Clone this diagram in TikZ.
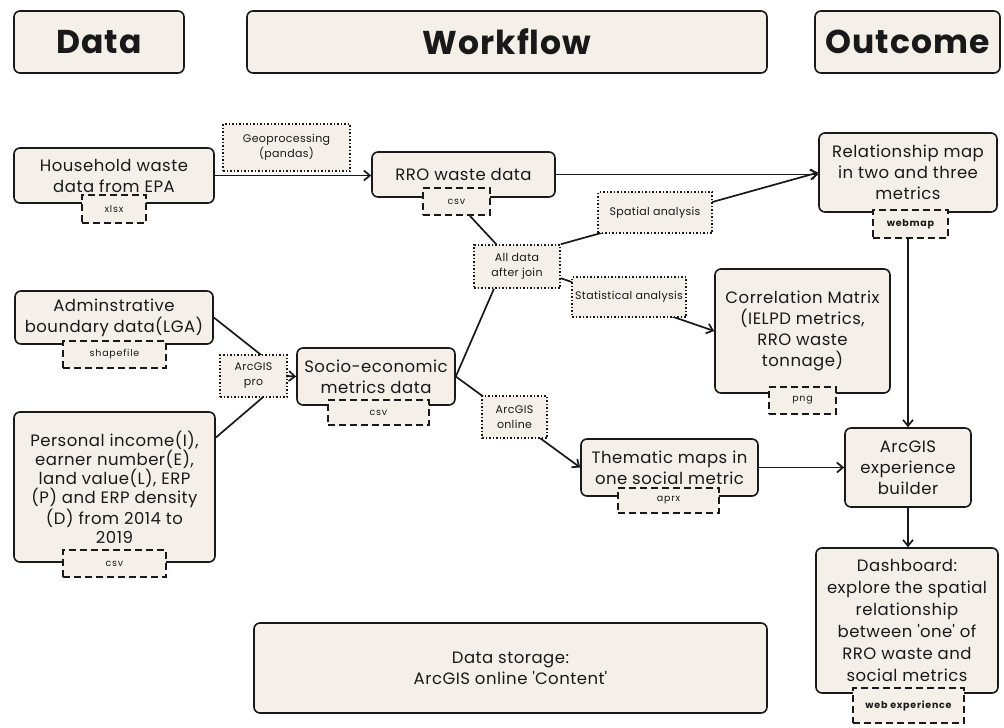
\documentclass[tikz,border=0pt]{standalone}
\usepackage{fontspec}
\setmainfont{Poppins}[LetterSpace=3]
\newfontfamily\tagfont{Poppins}[LetterSpace=8]
\usepackage{tikz}
\usetikzlibrary{arrows.meta,backgrounds}
\definecolor{paper}{RGB}{245,239,233}
\definecolor{ink}{RGB}{25,25,25}

\begin{document}
\begin{tikzpicture}[x=1pt, y=-1pt, line width=1.6pt,
  box/.style={draw=ink, rounded corners=6pt, fill=paper, align=center, text=ink, inner sep=2pt, font=\fontsize{16.5}{21}\selectfont},
  head/.style={box, minimum height=62, font=\fontsize{33}{40}\selectfont\bfseries},
  tagbox/.style={draw=ink, dash pattern=on 7pt off 4pt, fill=paper, text=ink, inner sep=1pt, font=\tagfont\fontsize{9.5}{11}\selectfont},
  procbox/.style={draw=ink, line width=1.5pt, dotted, fill=paper, align=center, text=ink, inner sep=1pt, font=\fontsize{11}{15}\selectfont},
  link/.style={draw=ink, line width=1.7pt},
  flow/.style={link, -{Straight Barb[length=6pt,width=10pt]}}]
\useasboundingbox (0,0) rectangle (1004,728);

\node[head, minimum width=170] (hdata) at (99,42) {Data};
\node[head, minimum width=520] (hflow) at (507,42) {Workflow};
\node[head, minimum width=185] (hout) at (907.5,42) {Outcome};

\node[box, minimum width=200, minimum height=55] (house) at (114,175.5) {Household waste\\data from EPA};
\node[tagbox, minimum width=64, minimum height=28] (xlsx) at (114,209) {xlsx};
\node[box, minimum width=183, minimum height=45] (rro) at (463.5,174.5) {RRO waste data};
\node[tagbox, minimum width=67, minimum height=27] (csvrro) at (456.5,201.5) {csv};
\node[box, minimum width=178, minimum height=79] (rel) at (908,172.5) {Relationship map\\in two and three\\metrics};
\node[tagbox, minimum width=75, minimum height=28, font=\tagfont\fontsize{9.5}{11}\selectfont\bfseries] (webmap) at (910.5,224) {webmap};

\node[box, minimum width=198, minimum height=53] (admin) at (114,317.5) {Adminstrative\\boundary data(LGA)};
\node[tagbox, minimum width=103, minimum height=27] (shp) at (114.5,354.5) {shapefile};
\node[box, minimum width=158, minimum height=57] (socio) at (376,376.5) {Socio-economic\\metrics data};
\node[tagbox, minimum width=101, minimum height=25] (csvsocio) at (378.5,412.5) {csv};
\node[box, minimum width=201, minimum height=150, font=\fontsize{16.5}{19}\selectfont] (pers) at (114.5,487) {Personal income(I),\\earner number(E),\\land value(L), ERP\\(P) and ERP density\\(D) from 2014 to\\2019};
\node[tagbox, minimum width=103, minimum height=27] (csvpers) at (114.5,563.5) {csv};

\node[box, minimum width=175, minimum height=124] (corr) at (802.5,331) {Correlation Matrix\\(IELPD metrics,\\RRO waste\\tonnage)};
\node[tagbox, minimum width=67, minimum height=27] (png) at (802.5,400.5) {png};
\node[box, minimum width=177, minimum height=57] (them) at (669.5,467.5) {Thematic maps in\\one social metric};
\node[tagbox, minimum width=101, minimum height=25] (aprx) at (668.5,500.5) {aprx};
\node[box, minimum width=126, minimum height=79] (build) at (908,467.5) {ArcGIS\\experience\\builder};
\node[box, minimum width=182, minimum height=145, font=\fontsize{16.5}{22}\selectfont] (dash) at (907,620.5) {Dashboard:\\explore the spatial\\relationship\\between \textquotesingle one\textquotesingle{} of\\RRO waste and\\social metrics};
\node[tagbox, minimum width=111, minimum height=35, font=\tagfont\fontsize{9.5}{11}\selectfont\bfseries] (webexp) at (908.5,705.5) {web experience};

\node[box, minimum width=513, minimum height=90] (store) at (510.5,668) {Data storage:\\ArcGIS online \textquotesingle Content\textquotesingle};

\node[procbox, minimum width=127, minimum height=47] (geo) at (286.5,147.5) {Geoprocessing\\(pandas)};
\node[procbox, minimum width=114, minimum height=41] (spatial) at (655,212.5) {Spatial analysis};
\node[procbox, minimum width=86, minimum height=43] (alldata) at (517,266.5) {All data\\after join};
\node[procbox, minimum width=114, minimum height=40] (stat) at (629,297) {Statistical analysis};
\node[procbox, minimum width=67, minimum height=42] (pro) at (253.5,376) {ArcGIS\\pro};
\node[procbox, minimum width=65, minimum height=42] (online) at (514.5,417) {ArcGIS\\online};

\begin{scope}[on background layer]
\draw[flow] (house.east) -- (house.east -| rro.west);
\draw[flow] (rro.east) -- (rro.east -| rel.west);
\draw[link] (csvrro) -- (alldata);
\draw[flow] (alldata.north east) -- (rel.west);
\draw[flow] (alldata.-15) -- (corr.west);
\draw[link] (socio.east) -- (alldata.-136);
\draw[flow] (socio.east) -- (them.west);
\draw[link] (admin.east) -- (pro.east);
\draw[link] (pers.26) -- (pro.east);
\draw[flow] (pro.east) -- (socio.west);
\draw[flow] (build.north |- webmap.south) -- (build.north);
\draw[flow] (them.east) -- (build.west);
\draw[flow] (build.south) -- (build.south |- dash.north);
\end{scope}
\end{tikzpicture}
\end{document}
